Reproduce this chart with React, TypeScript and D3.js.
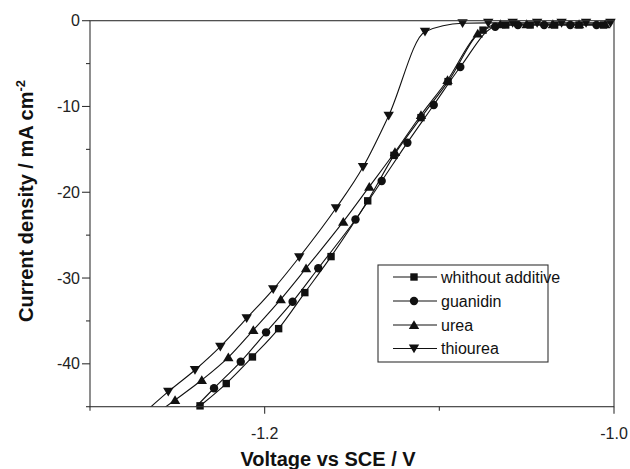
import React from 'react';
import * as d3 from 'd3';

const seriesNames = ['whithout additive', 'guanidin', 'urea', 'thiourea'];
const seriesSymbols = ['square', 'circle', 'triangleUp', 'triangleDown'];

const withoutV = [-1.252, -1.237, -1.222, -1.207, -1.192, -1.177, -1.162, -1.141, -1.126, -1.1105, -1.095, -1.075, -1.062, -1.048, -1.034, -1.02, -1.006];
const withoutI = [-47.3, -44.9, -42.3, -39.2, -35.9, -31.7, -27.5, -21.0, -15.7, -11.3, -7.1, -1.1, -0.5, -0.5, -0.5, -0.5, -0.5];

const guanidinV = [-1.244, -1.229, -1.2137, -1.1992, -1.184, -1.1693, -1.148, -1.133, -1.1183, -1.1032, -1.088, -1.068, -1.055, -1.04, -1.025, -1.01];
const guanidinI = [-46.0, -42.85, -39.75, -36.33, -32.76, -28.86, -23.18, -18.69, -14.22, -9.83, -5.4, -0.7, -0.5, -0.5, -0.5, -0.5];

const ureaV = [-1.266, -1.2513, -1.236, -1.2208, -1.2065, -1.1908, -1.1763, -1.155, -1.1401, -1.1254, -1.1105, -1.0953, -1.078, -1.065, -1.05, -1.035, -1.02, -1.005];
const ureaI = [-46.4, -44.22, -41.89, -39.24, -36.06, -32.48, -28.86, -23.43, -19.35, -15.31, -10.99, -6.91, -1.5, -0.4, -0.4, -0.4, -0.4, -0.4];

const thioureaV = [-1.27, -1.2552, -1.2399, -1.2254, -1.2103, -1.1951, -1.1802, -1.1592, -1.1437, -1.129, -1.1082, -1.0867, -1.072, -1.058, -1.044, -1.03, -1.016, -1.002];
const thioureaI = [-45.9, -43.25, -40.72, -38.0, -34.69, -31.31, -27.58, -21.87, -17.06, -11.07, -1.28, -0.3, -0.25, -0.25, -0.25, -0.25, -0.25, -0.25];

const xMajorTicks = [-1.2, -1.0];
const xMinorTicks = [-1.3, -1.1];
const yMajorTicks = [0, -10, -20, -30, -40];
const yMinorTicks = [-5, -15, -25, -35, -45];

const xTitle = 'Voltage vs SCE / V';
const yTitle = 'Current density / mA cm';
const yTitleSup = '-2';

const FONT = '"Liberation Sans", Arial, Helvetica, sans-serif';

function Marker({ kind, cx, cy }: { kind: string; cx: number; cy: number }) {
  if (kind === 'square') return <rect x={cx - 3.7} y={cy - 3.7} width={7.4} height={7.4} fill="#111" />;
  if (kind === 'circle') return <circle cx={cx} cy={cy} r={4.2} fill="#111" />;
  if (kind === 'triangleUp')
    return <path d={`M${cx},${cy - 4.8}L${cx + 5.2},${cy + 4}L${cx - 5.2},${cy + 4}Z`} fill="#111" />;
  return <path d={`M${cx},${cy + 4.8}L${cx + 5.2},${cy - 4}L${cx - 5.2},${cy - 4}Z`} fill="#111" />;
}

export default function App() {
  const W = 630, H = 469;
  const left = 90, right = 614, top = 20.7, bottom = 406.7;
  const x = d3.scaleLinear().domain([-1.3, -1.0]).range([left, right]);
  const y = d3.scaleLinear().domain([-45, 0]).range([bottom, top]);

  const series = [
    { v: withoutV, i: withoutI },
    { v: guanidinV, i: guanidinI },
    { v: ureaV, i: ureaI },
    { v: thioureaV, i: thioureaI },
  ];

  const line = d3
    .line<[number, number]>()
    .x((d) => x(d[0]))
    .y((d) => y(d[1]))
    .curve(d3.curveMonotoneX);

  const legendRows = [277, 301, 325, 348.5];

  return (
    <svg width={W} height={H} style={{ position: 'absolute', left: 0, top: 0, background: '#fff' }} fontFamily={FONT}>
      <defs>
        <clipPath id="plotclip">
          <rect x={left} y={top - 2} width={right - left} height={bottom - top + 2} />
        </clipPath>
      </defs>
      <rect x={0} y={0} width={W} height={H} fill="#fff" />

      {/* data lines */}
      <g clipPath="url(#plotclip)">
        {series.map((s, k) => {
          const pts = s.v.map((v, j) => [v, s.i[j]] as [number, number]);
          return <path key={k} d={line(pts) || ''} fill="none" stroke="#111" strokeWidth={1.1} />;
        })}
      </g>
      {/* markers */}
      {series.map((s, k) =>
        s.v.map((v, j) =>
          s.i[j] >= -45.3 ? <Marker key={`${k}-${j}`} kind={seriesSymbols[k]} cx={x(v)} cy={y(s.i[j])} /> : null
        )
      )}

      {/* frame */}
      <rect x={left} y={top} width={right - left} height={bottom - top} fill="none" stroke="#333" strokeWidth={1.1} />

      {/* x ticks */}
      {xMajorTicks.map((t) => (
        <g key={`xm${t}`}>
          <line x1={x(t)} x2={x(t)} y1={bottom} y2={bottom + 7} stroke="#333" strokeWidth={1.1} />
          <text x={x(t)} y={439} textAnchor="middle" fontSize={16} fill="#222">
            {t.toFixed(1)}
          </text>
        </g>
      ))}
      {xMinorTicks.map((t) => (
        <line key={`xn${t}`} x1={x(t)} x2={x(t)} y1={bottom} y2={bottom + 4} stroke="#333" strokeWidth={1.1} />
      ))}

      {/* y ticks */}
      {yMajorTicks.map((t) => (
        <g key={`ym${t}`}>
          <line x1={left - 8} x2={left} y1={y(t)} y2={y(t)} stroke="#333" strokeWidth={1.1} />
          <text x={80} y={y(t)} dy="0.35em" textAnchor="end" fontSize={16} fill="#222">
            {t === 0 ? '0' : String(t)}
          </text>
        </g>
      ))}
      {yMinorTicks.map((t) => (
        <line key={`yn${t}`} x1={left - 4} x2={left} y1={y(t)} y2={y(t)} stroke="#333" strokeWidth={1.1} />
      ))}

      {/* axis titles */}
      <text x={328} y={466} textAnchor="middle" fontSize={20} fontWeight="bold" fill="#111">
        {xTitle}
      </text>
      <text transform="translate(33,201) rotate(-90)" textAnchor="middle" fontSize={20} fontWeight="bold" fill="#111">
        {yTitle}
        <tspan fontSize={13} dy={-8}>{yTitleSup}</tspan>
      </text>

      {/* legend */}
      <rect x={378} y={265} width={170} height={97} fill="#fff" stroke="#333" strokeWidth={1.1} />
      {seriesNames.map((name, k) => (
        <g key={name}>
          <line x1={393} x2={437} y1={legendRows[k]} y2={legendRows[k]} stroke="#111" strokeWidth={1.1} />
          <Marker kind={seriesSymbols[k]} cx={414} cy={legendRows[k]} />
          <text x={441} y={legendRows[k]} dy="0.35em" fontSize={16} fill="#111">
            {name}
          </text>
        </g>
      ))}
    </svg>
  );
}
